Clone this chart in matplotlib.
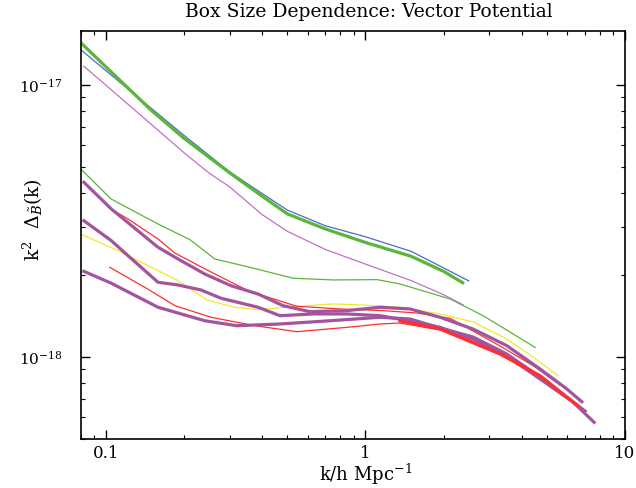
import numpy as np
import matplotlib
matplotlib.use("Agg")
import matplotlib.pyplot as plt
from matplotlib.ticker import LogLocator, NullFormatter, FixedLocator, FixedFormatter

plt.rcParams['font.family'] = ['DejaVu Serif']
plt.rcParams['mathtext.fontset'] = 'dejavuserif'

UNIT = 1e-17

blue_k = [0.08, 0.1, 0.15, 0.2, 0.3, 0.4, 0.5, 0.7, 1.0, 1.5, 2.0, 2.5]
blue_p = [1.345, 1.127, 0.817, 0.651, 0.478, 0.398, 0.346, 0.303, 0.276, 0.244, 0.212, 0.190]

green_k = [0.08, 0.1, 0.15, 0.2, 0.3, 0.4, 0.5, 0.7, 1.0, 1.5, 2.0, 2.37]
green_p = [1.427, 1.163, 0.803, 0.635, 0.474, 0.389, 0.335, 0.295, 0.263, 0.234, 0.206, 0.187]

magthin_k = [0.0823, 0.1, 0.15, 0.2, 0.25, 0.3, 0.4, 0.5, 0.7, 1.0, 1.5, 2.0, 2.38]
magthin_p = [1.168, 0.996, 0.713, 0.562, 0.473, 0.421, 0.333, 0.289, 0.248, 0.219, 0.1905, 0.169, 0.155]

greenthin_k = [0.08, 0.1047, 0.1588, 0.211, 0.2627, 0.3593, 0.5262, 0.7503, 1.109, 1.359, 2.119, 2.84, 3.608, 4.505]
greenthin_p = [0.490, 0.380, 0.3075, 0.2692, 0.2287, 0.2131, 0.1943, 0.1915, 0.1920, 0.1851, 0.1630, 0.1415, 0.1232, 0.1082]

red1_k = [0.1035, 0.1217, 0.1588, 0.1842, 0.2542, 0.3428, 0.3857, 0.5437, 0.7984, 1.169, 1.577, 2.119, 3.302, 4.426, 5.623]
red1_p = [0.3511, 0.3208, 0.2708, 0.2406, 0.2048, 0.1774, 0.1700, 0.1533, 0.1498, 0.1477, 0.1448, 0.1384, 0.1095, 0.0927, 0.0787]

red2_k = [0.1035, 0.1411, 0.1847, 0.2542, 0.3756, 0.5437, 0.8472, 1.139, 1.359, 2.119, 3.302, 4.71, 5.88]
red2_p = [0.2131, 0.1800, 0.1540, 0.1396, 0.1300, 0.1236, 0.1282, 0.1319, 0.1330, 0.1236, 0.1031, 0.0828, 0.0711]

yellow_k = [0.08, 0.1114, 0.1411, 0.1897, 0.2453, 0.3136, 0.3857, 0.5262, 0.7503, 0.9793, 1.359, 1.939, 2.598, 3.504, 4.426, 5.524]
yellow_p = [0.2825, 0.2454, 0.2192, 0.1903, 0.1616, 0.1520, 0.1489, 0.1528, 0.1563, 0.1549, 0.1520, 0.1436, 0.1342, 0.1162, 0.0997, 0.0851]

mag1_k = [0.0823, 0.105, 0.1588, 0.1897, 0.2403, 0.3035, 0.3857, 0.4817, 0.6118, 0.8472, 1.139, 1.486, 1.939, 2.598, 3.504, 4.71, 5.97, 6.818]
mag1_p = [0.4376, 0.349, 0.2525, 0.2287, 0.2014, 0.1824, 0.1700, 0.1540, 0.1464, 0.1477, 0.1520, 0.1498, 0.1396, 0.1264, 0.1098, 0.0901, 0.0761, 0.0683]

mag2_k = [0.0823, 0.105, 0.1217, 0.1588, 0.1897, 0.2326, 0.2778, 0.3857, 0.4688, 0.6284, 0.8472, 1.139, 1.486, 1.939, 2.598, 3.504, 4.71, 6.311, 7.603]
mag2_p = [0.3162, 0.2669, 0.2352, 0.1878, 0.1835, 0.1759, 0.1640, 0.1520, 0.1415, 0.1436, 0.1436, 0.1415, 0.1353, 0.1282, 0.1162, 0.1008, 0.0828, 0.0681, 0.0574]

mag3_k = [0.0823, 0.105, 0.1588, 0.2403, 0.3193, 0.4688, 0.7305, 1.139, 1.486, 1.939, 2.598, 3.504, 4.71, 7.022]
mag3_p = [0.2060, 0.1862, 0.1520, 0.1356, 0.1300, 0.1319, 0.1356, 0.1396, 0.1376, 0.1275, 0.1182, 0.1023, 0.0842, 0.0631]

redthick_k = [1.359, 1.939, 3.302, 4.71, 6.58]
redthick_p = [0.1353, 0.1264, 0.1023, 0.0851, 0.0660]

x_ticks = [0.1, 1, 10]
x_ticklabels = ['0.1', '1', '10']
y_ticks = [1e-18, 1e-17]
y_ticklabels = [r'$10^{-18}$', r'$10^{-17}$']

BLUE = '#4a6cc9'
GREEN = '#5ab53a'
MAGTHIN = '#c270c4'
PURPLE = '#a2559e'
RED = '#ff2e2e'
YELLOW = '#f2e830'

fig = plt.figure(figsize=(6.36, 4.89), dpi=100)
ax = fig.add_axes([0.1269, 0.101, 0.8558, 0.8336])

def sc(p):
    return np.array(p) * UNIT

thin = 0.9
thick = 2.3
ax.plot(greenthin_k, sc(greenthin_p), color=GREEN, lw=thin)
ax.plot(yellow_k, sc(yellow_p), color=YELLOW, lw=thin)
ax.plot(red1_k, sc(red1_p), color=RED, lw=thin)
ax.plot(red2_k, sc(red2_p), color=RED, lw=thin)
ax.plot(magthin_k, sc(magthin_p), color=MAGTHIN, lw=thin)
ax.plot(blue_k, sc(blue_p), color=BLUE, lw=thin)
ax.plot(green_k, sc(green_p), color=GREEN, lw=thick)
ax.plot(mag3_k, sc(mag3_p), color=PURPLE, lw=thick)
ax.plot(mag2_k, sc(mag2_p), color=PURPLE, lw=thick)
ax.plot(redthick_k, sc(redthick_p), color=RED, lw=thick)
ax.plot(mag1_k, sc(mag1_p), color=PURPLE, lw=thick)

ax.set_xscale('log')
ax.set_yscale('log')
ax.set_xlim(0.08, 10)
ax.set_ylim(5e-19, 1.575e-17)

ax.xaxis.set_major_locator(FixedLocator(x_ticks))
ax.xaxis.set_major_formatter(FixedFormatter(x_ticklabels))
ax.xaxis.set_minor_locator(LogLocator(base=10, subs=np.arange(2, 10), numticks=20))
ax.xaxis.set_minor_formatter(NullFormatter())
ax.yaxis.set_major_locator(FixedLocator(y_ticks))
ax.yaxis.set_major_formatter(FixedFormatter(y_ticklabels))
ax.yaxis.set_minor_locator(LogLocator(base=10, subs=np.arange(2, 10), numticks=20))
ax.yaxis.set_minor_formatter(NullFormatter())

ax.tick_params(which='both', direction='in', top=True, right=True, color='black')
ax.tick_params(which='major', length=6.5, width=1.0)
ax.tick_params(axis='x', which='major', pad=4, labelsize=12)
ax.tick_params(axis='y', which='major', pad=13, labelsize=11)
ax.tick_params(which='minor', length=3.2, width=0.8)
for s in ax.spines.values():
    s.set_linewidth(1.2)
    s.set_color('black')

fig.text(369 / 636, 1 - 12 / 489, 'Box Size Dependence: Vector Potential',
         ha='center', va='center', fontsize=13.5)
fig.text(366 / 636, 1 - 474 / 489, r'k/h Mpc$^{-1}$', ha='center', va='center', fontsize=13)
fig.text(33 / 636, 1 - 220 / 489, r'k$^2$  $\Delta_{\tilde{B}}$(k)', ha='center', va='center',
         rotation=90, fontsize=13.5)

fig.savefig('out.png', dpi=100)
